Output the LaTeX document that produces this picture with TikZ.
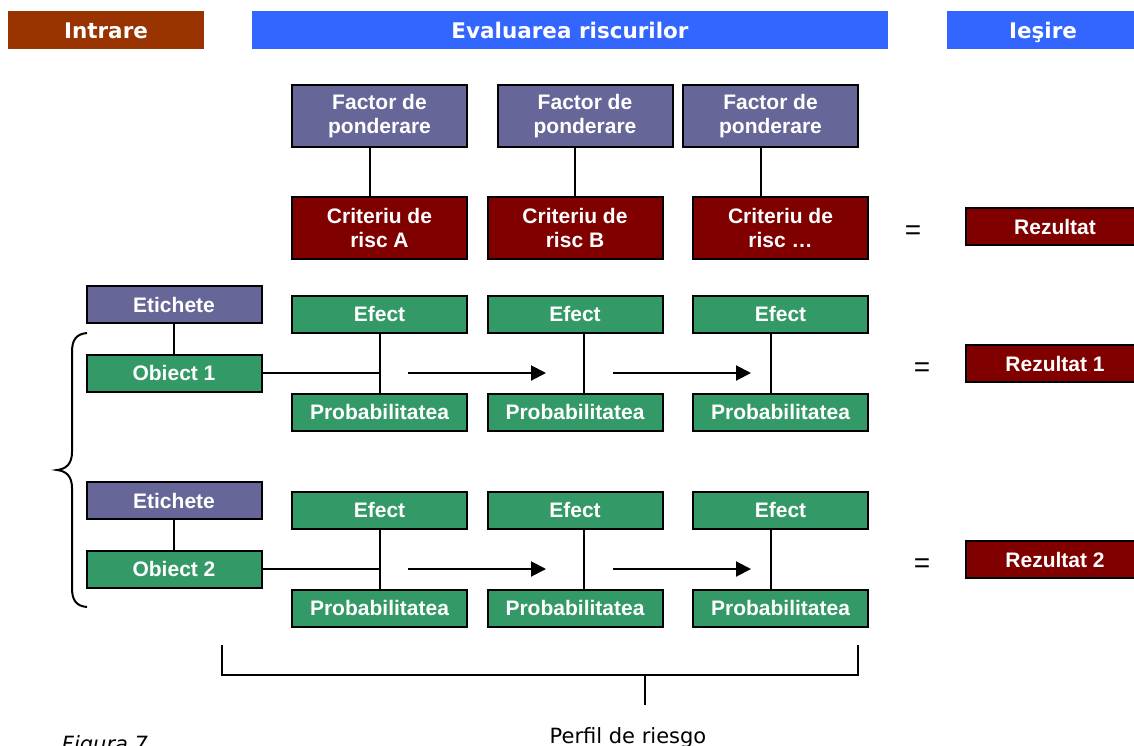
\documentclass[tikz,border=0pt]{standalone}
\usepackage{fontspec}
\setmainfont{Liberation Sans}
\newfontfamily\hdrfont{DejaVu Sans}
\usetikzlibrary{arrows.meta}
\definecolor{hdrbrown}{HTML}{993300}
\definecolor{hdrblue}{HTML}{3366FF}
\definecolor{boxpurple}{HTML}{666699}
\definecolor{boxred}{HTML}{800000}
\definecolor{boxgreen}{HTML}{339966}
\tikzset{
  hdr/.style={fill=#1, text=white, inner sep=0pt, minimum height=38pt},
  hdrtext/.style={text=white, inner sep=0pt, text height=17pt, text depth=0pt,
    font=\hdrfont\bfseries\fontsize{21.5}{24}\selectfont},
  blk/.style={draw=black, line width=2pt, fill=#1, text=white, inner sep=0pt,
    minimum width=175pt, minimum height=37pt, align=center,
    font=\bfseries\fontsize{21}{24}\selectfont},
  tall/.style={minimum height=62pt},
  link/.style={draw=black, line width=2pt},
  flow/.style={draw=black, line width=2pt, -{Triangle[length=15pt,width=15pt]}},
  eqsign/.style={font=\fontsize{28}{30}\selectfont, inner sep=0pt},
  plain/.style={font=\hdrfont\fontsize{21}{24}\selectfont, inner sep=0pt, anchor=base}
}
\begin{document}
\begin{tikzpicture}[x=1pt,y=-1pt]
\useasboundingbox (0,0) rectangle (1134,745);
\clip (0,0) rectangle (1134,745);

% header bands
\node[hdr=hdrbrown, minimum width=196pt] (hin) at (106,30) {};
\node[hdrtext] (hintext) at (106,30) {Intrare};
\node[hdr=hdrblue, minimum width=636pt] (hev) at (570,30) {};
\node[hdrtext] (hevtext) at (570,30) {Evaluarea riscurilor};
\node[hdr=hdrblue, minimum width=200pt] (hout) at (1047,30) {};
\node[hdrtext] (houttext) at (1043,30) {Ieşire};

% weighting factors and risk criteria
\node[blk=boxpurple, tall] (f1) at (379.5,116) {Factor de\\ponderare};
\node[blk=boxpurple, tall] (f2) at (585,116) {Factor de\\ponderare};
\node[blk=boxpurple, tall] (f3) at (770.5,116) {Factor de\\ponderare};
\node[blk=boxred, tall] (cA) at (379.5,228) {Criteriu de\\risc A};
\node[blk=boxred, tall] (cB) at (575,228) {Criteriu de\\risc B};
\node[blk=boxred, tall] (cC) at (780.5,228) {Criteriu de\\risc \dots};
\draw[link] ([xshift=-9.5pt]f1.south) -- ([xshift=-9.5pt]f1.south |- cA.north);
\draw[link] (cB.north |- f2.south) -- (cB.north);
\draw[link] ([xshift=-9.5pt]f3.south) -- ([xshift=-9.5pt]f3.south |- cC.north);
\node[eqsign] (eq0) at (913,233) {=};
\node[blk=boxred, minimum width=178pt] (r0) at (1055,226.5) {Rezultat};

% object rows
\foreach \k/\dy in {1/0,2/196}{
  \node[blk=boxpurple] (et\k) at (174,304.5+\dy) {Etichete};
  \node[blk=boxgreen] (ob\k) at (174,373+\dy) {Obiect \k};
  \draw[link] (et\k.south) -- (ob\k.north);
  \node[blk=boxgreen] (ea\k) at (379.5,314+\dy) {Efect};
  \node[blk=boxgreen] (pa\k) at (379.5,412+\dy) {Probabilitatea};
  \node[blk=boxgreen] (eb\k) at (575,314+\dy) {Efect};
  \node[blk=boxgreen] (pb\k) at (575,412+\dy) {Probabilitatea};
  \node[blk=boxgreen] (ec\k) at (780.5,314+\dy) {Efect};
  \node[blk=boxgreen] (pc\k) at (780.5,412+\dy) {Probabilitatea};
  \draw[link] (ea\k.south) -- (pa\k.north);
  \draw[link] ([xshift=9pt]eb\k.south) -- ([xshift=9pt]eb\k.south |- pb\k.north);
  \draw[link] ([xshift=-9.5pt]ec\k.south) -- ([xshift=-9.5pt]ec\k.south |- pc\k.north);
  \draw[link] (ob\k.east) -- (ob\k.east -| ea\k.south);
  \coordinate (a\k s) at (408,373+\dy);
  \coordinate (a\k e) at (546,373+\dy);
  \coordinate (b\k s) at (613,373+\dy);
  \coordinate (b\k e) at (751,373+\dy);
  \draw[flow] (a\k s) -- (a\k e);
  \draw[flow] (b\k s) -- (b\k e);
  \node[eqsign] (eq\k) at (922,370+\dy) {=};
  \node[blk=boxred, minimum width=178pt] (r\k) at (1055,363.5+\dy) {Rezultat \k};
}

% brace grouping the two objects
\draw[line width=2pt] (87,333) .. controls (76,334) and (72,340) .. (72,352) -- (72,452)
  .. controls (72,464) and (66,469) .. (57,470)
  .. controls (66,471) and (72,476) .. (72,488) -- (72,588)
  .. controls (72,600) and (76,606) .. (87,607);

% bracket under the evaluation area
\coordinate (bl) at (222,645);
\coordinate (br) at (858,645);
\coordinate (bm) at (645,675);
\coordinate (bt) at (645,705);
\draw[line width=2pt] (bl) -- (bl |- bm) -- (br |- bm) -- (br);
\draw[line width=2pt] (bm) -- (bt);
\node[plain] (perfil) at (628,743) {Perfil de riesgo};
\node[plain, font=\hdrfont\itshape\fontsize{21}{24}\selectfont] (fig) at (105,751) {Figura 7};
\end{tikzpicture}
\end{document}
